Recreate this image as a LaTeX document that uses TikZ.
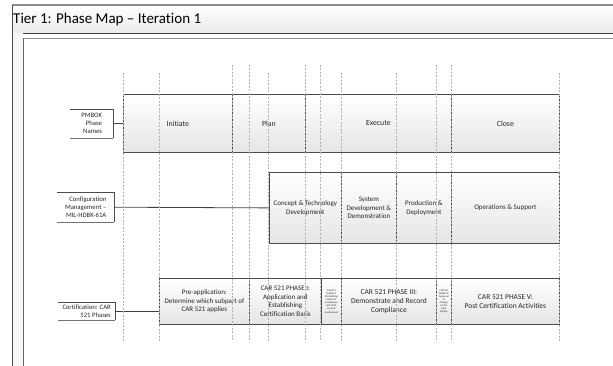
\documentclass[tikz,border=0pt]{standalone}
\usepackage{fontspec}
\setmainfont{Carlito}[Ligatures={NoCommon}]
\begin{document}
\begin{tikzpicture}[x=1pt,y=-1pt,
  phase/.style={draw=black!70, line width=0.8pt, top color=white, bottom color=black!10, anchor=north west, inner sep=1pt, align=center, font=\fontsize{7.8}{9}\selectfont, text=black!85},
  tiny/.style={font=\fontsize{2.6}{3.1}\selectfont},
  lab/.style={anchor=north west, inner sep=1.5pt, align=right, font=\fontsize{6.7}{8}\selectfont, text=black!85},
  guide/.style={draw=black!30, dashed, line width=0.4pt, dash pattern=on 2pt off 1.5pt},
  conn/.style={draw=black!75, line width=0.8pt}]
\useasboundingbox (0,0) rectangle (613,366);
% frame
\shade[top color=white, bottom color=black!8] (12,5) rectangle (613,33);
\draw[black!45, line width=1.3pt] (12,5) -- (613,5);
\draw[black!75, line width=0.8pt] (12,33) -- (613,33);
\draw[black!45, line width=1.5pt] (23,38.5) -- (613,38.5);
\fill[black!3] (12,33) rectangle (23,366);
\draw[black!70, line width=0.8pt] (12,5) -- (12,366);
\draw[black!60, line width=0.8pt] (23,38) -- (23,366);
\node[anchor=west, inner sep=0pt, font=\fontsize{15}{16}\selectfont] (title) at (13,19.5) {Tier 1: Phase Map -- Iteration 1};
% row 1
\node[phase, minimum width=109pt, minimum height=58pt] (init) at (123,94) {Initiate};
\node[phase, minimum width=73pt, minimum height=58pt] (plan) at (232,94) {Plan};
\node[phase, minimum width=146pt, minimum height=58pt] (exec) at (305,94) {Execute};
\node[phase, minimum width=108pt, minimum height=58pt] (close) at (451,94) {Close};
% row 2
\node[phase, minimum width=72pt, minimum height=71pt, font=\fontsize{7}{8.5}\selectfont] (ctd) at (269,172) {Concept \& Technology\\Development};
\node[phase, minimum width=55pt, minimum height=71pt, font=\fontsize{7}{8.5}\selectfont] (sdd) at (341,172) {System\\Development \&\\Demonstration};
\node[phase, minimum width=55pt, minimum height=71pt, font=\fontsize{7}{8.5}\selectfont] (pd) at (396,172) {Production \&\\Deployment};
\node[phase, minimum width=108pt, minimum height=71pt, font=\fontsize{7}{8.5}\selectfont] (os) at (451,172) {Operations \& Support};
% row 3
\node[phase, minimum width=90pt, minimum height=46pt, font=\fontsize{7}{8.5}\selectfont] (pre) at (159,278) {Pre-application:\\Determine which subpart of\\CAR 521 applies};
\node[phase, minimum width=72pt, minimum height=46pt, font=\fontsize{7}{8.5}\selectfont] (p1) at (249,278) {CAR 521 PHASE I:\\Application and\\Establishing\\Certification Basis};
\node[phase, minimum width=20pt, minimum height=46pt, tiny, inner sep=0pt] (p2) at (321,278) {CAR 521\\PHASE II:\\Establishing\\Means of\\Compliance\\and TCCA\\Level of\\Involvement};
\node[phase, minimum width=95pt, minimum height=46pt, font=\fontsize{7.5}{9}\selectfont] (p3) at (341,278) {CAR 521 PHASE III:\\Demonstrate and Record\\Compliance};
\node[phase, minimum width=15pt, minimum height=46pt, tiny, inner sep=0pt] (p4) at (436,278) {CAR 521\\PHASE IV:\\Approval\\of\\Change\\to the\\Type\\Design};
\node[phase, minimum width=108pt, minimum height=46pt, font=\fontsize{7.5}{9}\selectfont] (p5) at (451,278) {CAR 521 PHASE V:\\Post Certification Activities};
% labels
\node[lab, minimum width=43pt, minimum height=29pt] (pmb) at (70,109) {PMBOK\\Phase\\Names};
\node[lab, minimum width=57pt, minimum height=30pt] (cm) at (57,192) {Configuration\\Management --\\MIL-HDBK-61A};
\node[lab, minimum width=57pt, minimum height=18pt] (cert) at (58,302) {Certification: CAR\\521 Phases};
\foreach \n in {pmb,cm,cert}{
  \draw[black!70, line width=0.7pt] (\n.north west) -- (\n.north east) -- (\n.south east);
  \draw[black!55, line width=1.1pt] (\n.south west) -- (\n.south east);
}
% connectors
\draw[conn] (pmb.east) -- (init.west);
\draw[conn] (cm.east) -- (ctd.west);
\draw[conn] (cert.east) -- (cert.east -| pre.west);
% guides
\foreach \x/\y in {123/73,159/73,232/65,249/65,268/73,305/65,320/65,341/73,396/73,436/65,451/65,559/73}{
  \draw[guide] (\x,\y) -- (\x,341);
}
\end{tikzpicture}
\end{document}
